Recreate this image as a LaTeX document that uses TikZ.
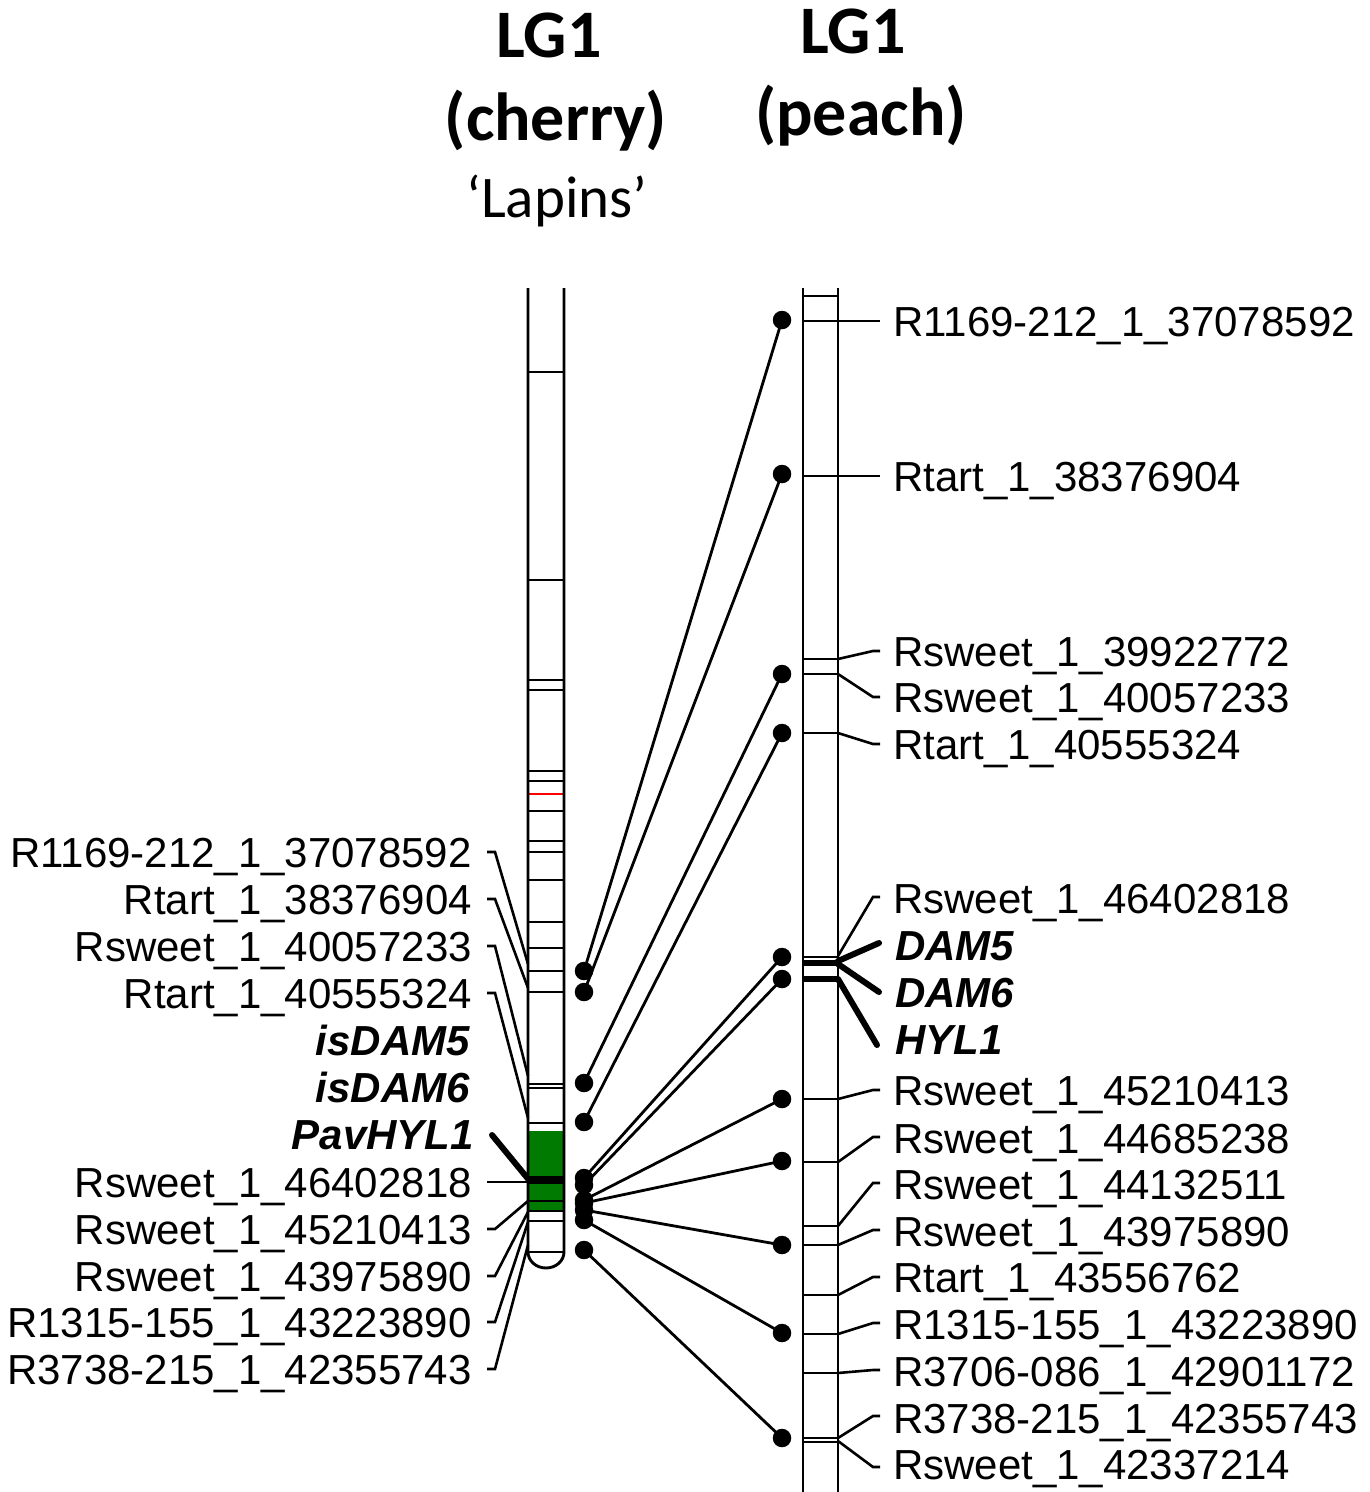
\documentclass[tikz,border=0pt]{standalone}
\usepackage{fontspec}
\setmainfont{Liberation Sans}
\newfontfamily\titlefont{Carlito}
\definecolor{qtlgreen}{RGB}{0,122,0}
\begin{document}
\begin{tikzpicture}[x=1pt,y=-1pt,
  thinline/.style={line width=2.9pt},
  lead/.style={line width=2.6pt},
  thicklead/.style={line width=6pt,line cap=round},
  lab/.style={font=\fontsize{42}{50}\selectfont,inner sep=0pt},
  glab/.style={lab,font=\fontsize{42}{50}\selectfont\bfseries\itshape},
  dot/.style={circle,fill=black,inner sep=0pt,minimum size=18.5pt},
  conn/.style={line width=2.8pt},
  ttl/.style={font=\fontsize{68}{72}\selectfont\titlefont\bfseries,inner sep=0pt},
  ttlsub/.style={font=\fontsize{59}{64}\selectfont\titlefont,inner sep=0pt}]
\useasboundingbox (0,0) rectangle (1370,1492);

% titles
\node[ttl,anchor=base] (t1) at (549,57) {LG1};
\node[ttl,anchor=base] (t2) at (556,140) {(cherry)};
\node[ttlsub,anchor=base] (t3) at (557,217) {‘Lapins’};
\node[ttl,anchor=base] (t4) at (853,53) {LG1};
\node[ttl,anchor=base] (t5) at (861,135) {(peach)};

% ---------- left chromosome (cherry)
\fill[qtlgreen] (528,1131) rectangle (564,1211);
\foreach \y in {372,580,680,690,771,781,811,841,852,880,922,948,971,992,1084,1088,1123,1201,1211,1221,1252}
  \draw[thinline] (528,\y) -- (564,\y);
\draw[line width=2.4pt,red] (529,794) -- (563,794);
\draw[line width=7.5pt] (528,1180) -- (564,1180);
\draw[thinline] (528,288) -- (528,1252) arc[start angle=180,end angle=360,x radius=18pt,y radius=16pt] -- (564,288);

% ---------- right chromosome (peach)
\foreach \y in {296,321,476,659,674,733,957,1099,1162,1226,1245,1295,1334,1373,1438,1442}
  \draw[thinline] (803,\y) -- (838,\y);
\draw[line width=5.5pt] (803,963) -- (838,963);
\draw[line width=5.5pt] (803,979) -- (838,979);
\draw[thinline] (803,288) -- (803,1492);
\draw[thinline] (838,288) -- (838,1492);

% ---------- left labels
\node[lab,anchor=base east] (l1) at (472,867) {R1169-212\_1\_37078592};
\node[lab,anchor=base east] (l2) at (472,914) {Rtart\_1\_38376904};
\node[lab,anchor=base east] (l3) at (472,961) {Rsweet\_1\_40057233};
\node[lab,anchor=base east] (l4) at (472,1008) {Rtart\_1\_40555324};
\node[glab,anchor=base east] (l5) at (470,1055) {isDAM5};
\node[glab,anchor=base east] (l6) at (470,1102) {isDAM6};
\node[glab,anchor=base east] (l7) at (474,1149) {PavHYL1};
\node[lab,anchor=base east] (l8) at (472,1197) {Rsweet\_1\_46402818};
\node[lab,anchor=base east] (l9) at (472,1244) {Rsweet\_1\_45210413};
\node[lab,anchor=base east] (l10) at (472,1291) {Rsweet\_1\_43975890};
\node[lab,anchor=base east] (l11) at (472,1337) {R1315-155\_1\_43223890};
\node[lab,anchor=base east] (l12) at (472,1384) {R3738-215\_1\_42355743};

% left leaders
\foreach \n/\ly/\cy in {1/852/964,2/899/988,3/946/1076,4/993/1118,9/1229/1201,10/1276/1212,11/1322/1222,12/1369/1245}{
  \coordinate (la\n) at (487,\ly);
  \coordinate (ca\n) at (528,\cy);
  \draw[lead] (la\n) -- ++(8,0) -- (ca\n);
}
\coordinate (la8) at (487,1182);
\coordinate (ca8) at (528,1182);
\draw[lead] (la8) -- (ca8);
\coordinate (la7) at (492,1135);
\coordinate (ca7) at (529,1180);
\draw[thicklead] (la7) -- (ca7);

% ---------- right labels
\foreach \n/\y/\t in {1/321/R1169-212\_1\_37078592,2/476/Rtart\_1\_38376904,3/651/Rsweet\_1\_39922772,4/697/Rsweet\_1\_40057233,5/744/Rtart\_1\_40555324,6/898/Rsweet\_1\_46402818,10/1090/Rsweet\_1\_45210413,11/1138/Rsweet\_1\_44685238,12/1184/Rsweet\_1\_44132511,13/1231/Rsweet\_1\_43975890,14/1277/Rtart\_1\_43556762,15/1324/R1315-155\_1\_43223890,16/1371/R3706-086\_1\_42901172,17/1418/R3738-215\_1\_42355743,18/1464/Rsweet\_1\_42337214}
  \node[lab,anchor=base west] (r\n) at (893,\y+15) {\t};
\node[glab,anchor=base west] (r7) at (895,960) {DAM5};
\node[glab,anchor=base west] (r8) at (895,1007) {DAM6};
\node[glab,anchor=base west] (r9) at (895,1054) {HYL1};

% right leaders
\foreach \n/\cy/\ly in {1/321/321,2/476/476,3/659/651,4/674/697,5/733/744,6/956/897,10/1099/1090,11/1162/1137,12/1226/1183,13/1245/1230,14/1295/1277,15/1334/1323,16/1373/1370,17/1438/1416,18/1441/1467}{
  \coordinate (cb\n) at (838,\cy);
  \coordinate (lb\n) at (880,\ly);
  \draw[lead] (cb\n) -- (873,\ly) -- (lb\n);
}
\coordinate (cb7) at (838,961);
\coordinate (lb7) at (879,943);
\coordinate (cb8) at (838,964);
\coordinate (lb8) at (879,992);
\coordinate (cb9) at (838,979);
\coordinate (lb9) at (877,1045);
\draw[thicklead] (cb7) -- (lb7);
\draw[thicklead] (cb8) -- (lb8);
\draw[thicklead] (cb9) -- (lb9);

% ---------- dots
\foreach \n/\y in {1/971,2/992,3/1083,4/1122,5/1178,6/1185,7/1200,8/1203,9/1210,10/1220,11/1250}
  \node[dot] (dl\n) at (584,\y) {};
\foreach \n/\y in {1/320,2/474,3/674,4/733,5/957,6/979,7/1099,8/1161,9/1245,10/1333,11/1438}
  \node[dot] (dr\n) at (782,\y) {};

% connectors
\foreach \n in {1,...,11}
  \draw[conn] (dl\n.center) -- (dr\n.center);
\end{tikzpicture}
\end{document}
